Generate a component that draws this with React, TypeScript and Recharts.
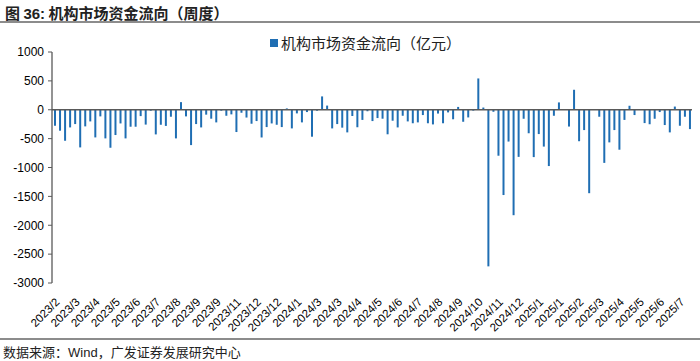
import { Bar, BarChart, ReferenceLine, XAxis, YAxis } from 'recharts'

// month shown under every 4th week
const tickLabels = [
  '2023/2', '2023/3', '2023/4', '2023/5', '2023/6', '2023/7', '2023/8', '2023/9',
  '2023/9', '2023/11', '2023/12', '2023/12', '2024/1', '2024/3', '2024/3', '2024/4',
  '2024/5', '2024/6', '2024/7', '2024/8', '2024/9', '2024/10', '2024/11', '2024/12',
  '2025/1', '2025/1', '2025/2', '2025/3', '2025/4', '2025/5', '2025/6', '2025/7',
]

// weekly institutional fund flow, 亿元
const flows = [
  -277, -363, -537, -306, -248, -652, -288, -202, -479, -115,
  -496, -658, -438, -237, -496, -294, -294, -110, -257, -17,
  -427, -260, -280, -121, -496, 132, -115, -612, -248, -306,
  -85, -155, -219, -17, -104, -80, -386, -52, -135, -242,
  -196, -480, -300, -237, -260, -300, 23, -323, -63, -219,
  -40, -467, -17, 231, 72, -323, -248, -310, -392, -108,
  -303, -176, -26, -196, -144, -155, -425, -190, -306, -104,
  -202, -234, -219, -92, -234, -254, -66, -234, -46, -165,
  49, -208, -133, -15, 542, 38, -2712, -35, -796, -1477,
  -551, -1826, -816, -156, -407, -820, -421, -638, -975, -104,
  127, 0, -291, 346, -545, -352, -1445, 0, -121, -920,
  -565, -352, -692, -176, 69, -92, 0, -231, -251, -156,
  -40, -265, -392, 55, -277, -121, -335,
]

const yTicks = [1000, 500, 0, -500, -1000, -1500, -2000, -2500, -3000]

const data = flows.map((value, i) => ({ week: tickLabels[Math.floor(i / 4)], value }))

const cjk = '"Noto Sans CJK SC", sans-serif'
const latin = '"Liberation Sans", Arial, sans-serif'
const barColor = '#1f6eb3'

export default function App() {
  return (
    <div style={{ position: 'absolute', left: 0, top: 0, width: 700, height: 361, background: '#fff', overflow: 'hidden' }}>
      <div style={{ position: 'absolute', left: 5, top: 2, fontFamily: cjk, fontSize: 15, fontWeight: 700, color: '#222', whiteSpace: 'nowrap' }}>
        图 <span style={{ fontFamily: latin }}>36:</span> 机构市场资金流向（周度）
      </div>
      <div style={{ position: 'absolute', left: 0, top: 21, width: 700, height: 2, background: '#8c8c8c' }} />

      <div style={{ position: 'absolute', left: 270, top: 32, display: 'flex', alignItems: 'center', fontFamily: cjk, fontSize: 15, color: '#222', whiteSpace: 'nowrap' }}>
        <span style={{ display: 'inline-block', width: 8, height: 8, background: barColor, marginRight: 3 }} />
        机构市场资金流向（亿元）
      </div>

      <div style={{ position: 'absolute', left: 0, top: 0 }}>
        <BarChart width={700} height={340} data={data} margin={{ top: 52, right: 8, bottom: 7, left: 8 }} barSize={2}>
          <XAxis
            dataKey="week"
            interval={3}
            axisLine={false}
            tickLine={false}
            height={50}
            angle={-45}
            textAnchor="end"
            tickMargin={8}
            tick={{ fill: '#000', fontSize: 11.5, fontFamily: latin }}
          />
          <YAxis
            domain={[-3000, 1000]}
            ticks={yTicks}
            interval={0}
            width={44}
            tickSize={4}
            tickMargin={4}
            axisLine={{ stroke: '#595959', strokeWidth: 1.3 }}
            tickLine={{ stroke: '#595959' }}
            tick={{ fill: '#000', fontSize: 12, fontFamily: latin }}
          />
          <ReferenceLine y={0} stroke="#595959" strokeWidth={1.5} />
          <Bar dataKey="value" fill={barColor} isAnimationActive={false} />
        </BarChart>
      </div>

      <div style={{ position: 'absolute', left: 0, top: 338, width: 700, height: 2, background: '#8c8c8c' }} />
      <div style={{ position: 'absolute', left: 3, top: 342, fontFamily: cjk, fontSize: 13, color: '#222', whiteSpace: 'nowrap' }}>
        数据来源：<span style={{ fontFamily: latin }}>Wind</span>，广发证券发展研究中心
      </div>
    </div>
  )
}
